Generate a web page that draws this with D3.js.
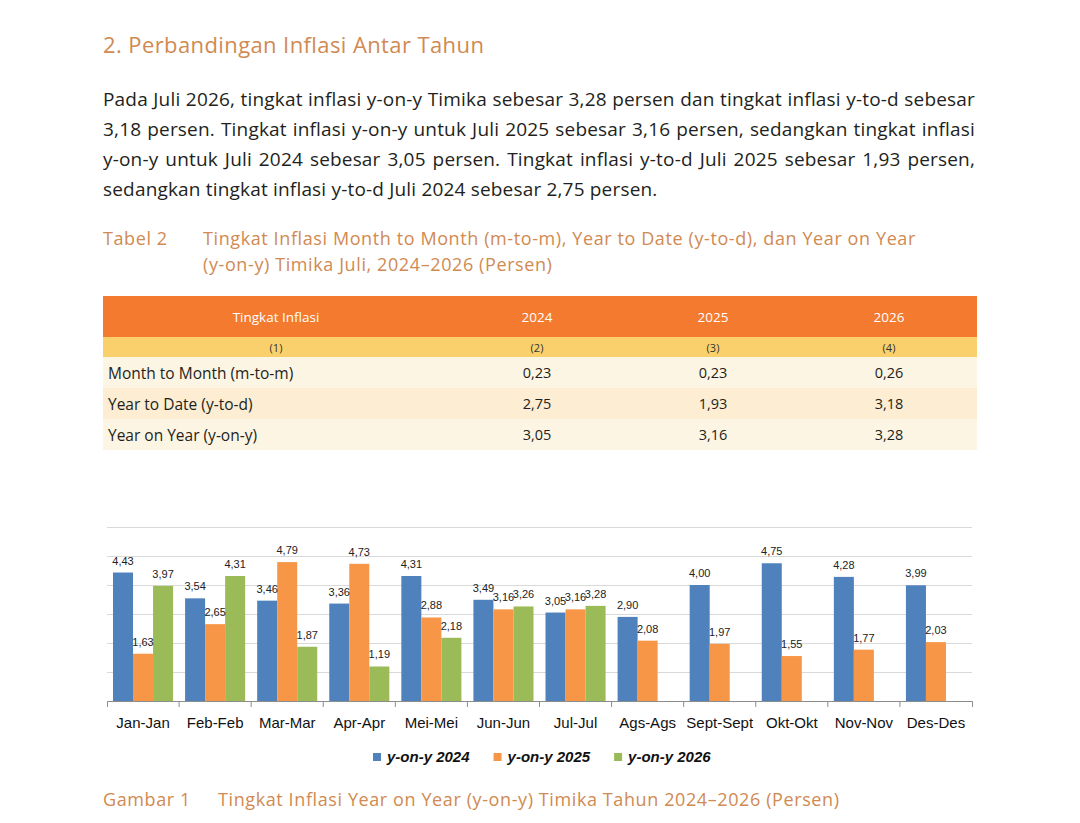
<!DOCTYPE html>
<html>
<head>
<meta charset="utf-8">
<script src="https://cdn.jsdelivr.net/npm/d3@7"></script>
<style>
  body { margin:0; background:#fff; }
  #page { position:relative; width:1080px; height:823px; overflow:hidden; font-family:"Open Sans", "Noto Sans", sans-serif; }
  .abs { position:absolute; white-space:nowrap; }
  .orange { color:#d08a52; }
  .cap { font-size:18px; letter-spacing:0.6px; }
  .para { position:absolute; left:103px; width:872px; font-size:19px; letter-spacing:0.18px; color:#231f20; white-space:nowrap; text-align:justify; text-align-last:justify; line-height:30px; }
  .para.last { text-align-last:left; }
  table { position:absolute; left:103px; top:296px; width:874px; border-collapse:collapse; table-layout:fixed; }
  td { padding:0; text-align:center; }
  svg { position:absolute; left:0; top:0; }
</style>
</head>
<body>
<div id="page">
  <svg id="chart" width="1080" height="823"></svg>
</div>
<script>
// text of the page
const heading = "2. Perbandingan Inflasi Antar Tahun";
const paraLines = [
  "Pada Juli 2026, tingkat inflasi y-on-y Timika sebesar 3,28 persen dan tingkat inflasi y-to-d sebesar",
  "3,18 persen. Tingkat inflasi y-on-y untuk Juli 2025 sebesar 3,16 persen, sedangkan tingkat inflasi",
  "y-on-y untuk Juli 2024 sebesar 3,05 persen. Tingkat inflasi y-to-d Juli 2025 sebesar 1,93 persen,",
  "sedangkan tingkat inflasi y-to-d Juli 2024 sebesar 2,75 persen."
];
const tableTitle = ["Tingkat Inflasi Month to Month (m-to-m), Year to Date (y-to-d), dan Year on Year",
                    "(y-on-y) Timika Juli, 2024\u20132026 (Persen)"];
const figTitle = "Tingkat Inflasi Year on Year (y-on-y) Timika Tahun 2024\u20132026 (Persen)";

// table data
const tableCols = ["Tingkat Inflasi", "2024", "2025", "2026"];
const colNums = ["(1)", "(2)", "(3)", "(4)"];
const rowLabels = ["Month to Month (m-to-m)", "Year to Date (y-to-d)", "Year on Year (y-on-y)"];
const tbl2024 = [0.23, 2.75, 3.05];
const tbl2025 = [0.23, 1.93, 3.16];
const tbl2026 = [0.26, 3.18, 3.28];

// chart data
const months = ["Jan-Jan","Feb-Feb","Mar-Mar","Apr-Apr","Mei-Mei","Jun-Jun","Jul-Jul","Ags-Ags","Sept-Sept","Okt-Okt","Nov-Nov","Des-Des"];
const series = ["y-on-y 2024", "y-on-y 2025", "y-on-y 2026"];
const yoy2024 = [4.43, 3.54, 3.46, 3.36, 4.31, 3.49, 3.05, 2.90, 4.00, 4.75, 4.28, 3.99];
const yoy2025 = [1.63, 2.65, 4.79, 4.73, 2.88, 3.16, 3.16, 2.08, 1.97, 1.55, 1.77, 2.03];
const yoy2026 = [3.97, 4.31, 1.87, 1.19, 2.18, 3.26, 3.28, null, null, null, null, null];
const colors = ["#4f81bd", "#f79646", "#9bbb59"];

const comma = v => d3.format(".2f")(v).replace(".", ",");
const page = d3.select("#page");

// heading + paragraph
page.append("div").attr("class", "abs orange")
  .style("left", "103px").style("top", "29px").style("font-size", "22px").style("letter-spacing", "0.4px")
  .text(heading);

page.selectAll("div.para").data(paraLines).enter().append("div")
  .attr("class", (d, i) => i == paraLines.length - 1 ? "para last" : "para")
  .style("top", (d, i) => (84 + i * 30) + "px")
  .text(d => d);

// table caption
page.append("div").attr("class", "abs orange cap")
  .style("left", "103px").style("top", "226px").text("Tabel 2");
page.selectAll("div.tcap").data(tableTitle).enter().append("div")
  .attr("class", "abs orange cap tcap")
  .style("left", "203px").style("top", (d, i) => (226 + i * 26) + "px")
  .text(d => d);

// table
const table = page.append("table");
const cg = table.append("colgroup");
[346, 176, 176, 176].forEach(w => cg.append("col").style("width", w + "px"));

table.append("tr").style("background", "#f37a2e").style("height", "41px")
  .selectAll("td").data(tableCols).enter().append("td")
  .style("color", "#fff").style("font-size", "13.5px").text(d => d);

table.append("tr").style("background", "#fad06c").style("height", "20px")
  .selectAll("td").data(colNums).enter().append("td")
  .style("color", "#333").style("font-size", "11px").text(d => d);

const rowBg = ["#fdf5e4", "#fcedd3", "#fdf5e4"];
rowLabels.forEach((lab, i) => {
  const tr = table.append("tr").style("background", rowBg[i]).style("height", "31px");
  tr.append("td").style("text-align", "left").style("padding-left", "5px")
    .style("font-size", "15.5px").style("color", "#231f20").text(lab);
  [tbl2024[i], tbl2025[i], tbl2026[i]].forEach(v => {
    tr.append("td").style("font-size", "14.5px").style("color", "#231f20").text(comma(v));
  });
});

// figure caption
page.append("div").attr("class", "abs orange cap")
  .style("left", "103px").style("top", "787px").text("Gambar 1");
page.append("div").attr("class", "abs orange cap")
  .style("left", "218px").style("top", "787px").text(figTitle);

// ---- bar chart ----
const svg = d3.select("#chart");
const plotLeft = 107, plotRight = 972, plotTop = 527, plotBottom = 701;

const x0 = d3.scaleBand().domain(months).range([plotLeft, plotRight]);
const x1 = d3.scaleBand().domain(series).range([0, x0.bandwidth()]).paddingOuter(0.3);
const y = d3.scaleLinear().domain([0, 6]).range([plotBottom, plotTop]);

// gridlines
const grid = svg.append("g").attr("transform", `translate(${plotLeft},0)`)
  .call(d3.axisLeft(y).ticks(6).tickSize(-(plotRight - plotLeft)).tickFormat(""));
grid.select(".domain").remove();
grid.selectAll(".tick line").attr("stroke", "#d9d9d9");
grid.selectAll(".tick").filter(d => d == 0).remove();

const data = months.map((m, i) => ({
  month: m,
  vals: [yoy2024[i], yoy2025[i], yoy2026[i]].map((v, k) => ({ s: series[k], v: v, k: k }))
}));

const groups = svg.selectAll("g.month").data(data).enter().append("g")
  .attr("class", "month")
  .attr("transform", d => `translate(${x0(d.month)},0)`);

groups.selectAll("rect")
  .data(d => d.vals.filter(e => e.v != null))
  .enter().append("rect")
  .attr("x", d => x1(d.s))
  .attr("y", d => y(d.v))
  .attr("width", x1.bandwidth())
  .attr("height", d => plotBottom - y(d.v))
  .attr("fill", d => colors[d.k]);

groups.selectAll("text.val")
  .data(d => d.vals.filter(e => e.v != null))
  .enter().append("text")
  .attr("class", "val")
  .attr("x", d => x1(d.s) + x1.bandwidth() / 2)
  .attr("y", d => y(d.v) - 8)
  .attr("text-anchor", "middle")
  .attr("font-family", "Liberation Sans, Arial, sans-serif")
  .attr("font-size", "11px")
  .attr("fill", "#222")
  .text(d => comma(d.v));

// x axis
const xAxis = svg.append("g").attr("transform", `translate(0,${plotBottom})`)
  .call(d3.axisBottom(x0).tickSize(0).tickSizeOuter(6).tickPadding(16));
xAxis.select(".domain").attr("stroke", "#8c8c8c");
xAxis.selectAll("text")
  .attr("font-family", "Liberation Sans, Arial, sans-serif")
  .attr("font-size", "15px")
  .attr("fill", "#111");
xAxis.selectAll("line.sep").data(months.slice(1)).enter().append("line")
  .attr("class", "sep")
  .attr("x1", d => x0(d)).attr("x2", d => x0(d))
  .attr("y1", 0).attr("y2", 6)
  .attr("stroke", "#8c8c8c");

// legend
const legend = svg.append("g").attr("transform", "translate(373,757)");
let lx = 0;
series.forEach((s, k) => {
  const item = legend.append("g").attr("transform", `translate(${lx},0)`);
  item.append("rect").attr("x", 0).attr("y", -4).attr("width", 8).attr("height", 8).attr("fill", colors[k]);
  const t = item.append("text").attr("x", 14).attr("y", 5)
    .attr("font-family", "Liberation Sans, Arial, sans-serif")
    .attr("font-size", "15px").attr("font-weight", "bold").attr("font-style", "italic")
    .attr("fill", "#111").text(s);
  lx += 14 + t.node().getComputedTextLength() + 24;
});
</script>
</body>
</html>
